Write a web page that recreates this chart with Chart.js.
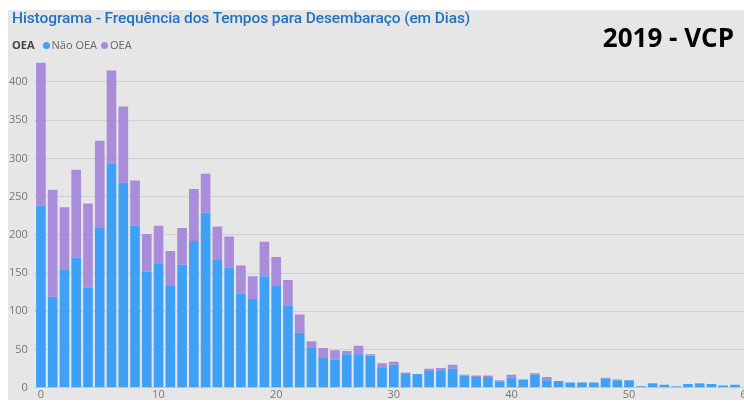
<!DOCTYPE html>
<html>
<head>
<meta charset="utf-8">
<script src="https://cdn.jsdelivr.net/npm/chart.js@4"></script>
<style>
  html, body { margin: 0; padding: 0; background: #fff; overflow: hidden; width: 744px; height: 406px; }
  #panel { position: absolute; left: 8px; top: 10px; width: 736px; height: 390px; background: #e6e6e6; }
  #wrap { position: absolute; left: -1px; top: 10px; width: 754px; height: 391px; }
  #titulo { position: absolute; left: 12px; top: 9px; font: 500 15.5px Roboto, sans-serif; color: #1f72c4; white-space: nowrap; letter-spacing: -0.1px; }
  #ano { position: absolute; right: 10px; top: 19px; font: bold 26px "Open Sans", sans-serif; color: #000; white-space: nowrap; }
  #legenda { position: absolute; left: 12px; top: 37px; font: 11px "Open Sans", sans-serif; color: #666; white-space: nowrap; }
  #legenda b { color: #444; margin-right: 4px; }
  .dot { display: inline-block; width: 7px; height: 7px; border-radius: 50%; margin: 0 2px 0 4px; vertical-align: 0px; }
</style>
</head>
<body>
<div id="panel"></div>
<div id="wrap"><canvas id="histograma" width="754" height="391"></canvas></div>
<div id="titulo">Histograma - Frequência dos Tempos para Desembaraço (em Dias)</div>
<div id="ano">2019 - VCP</div>
<div id="legenda"><b>OEA</b><span class="dot" style="background:#3fa0f8"></span>Não OEA<span class="dot" style="background:#a98ddb"></span>OEA</div>
<script>
// dias (0..59)
var dias = [];
for (var d = 0; d < 60; d++) dias.push(d);

var nao_oea = [238,119,154,170,131,210,293,268,212,152,
               162,133,161,192,229,167,157,123,116,146,
               134,108,72,53,40,37,44,44,42,26,
               30,19,18,22,23,25,16,14,14,8,
               13,11,17,10,9,7,7,7,12,10,
               10,2,6,4,2,5,5,5,3,4];
var oea = [187,140,82,115,110,113,122,100,59,49,
           50,46,48,68,51,44,41,37,30,45,
           37,33,24,8,12,12,4,11,2,6,
           4,1,0,3,3,5,1,2,2,2,
           4,0,2,4,0,0,0,0,1,1,
           0,0,0,0,0,0,1,0,0,0];

var ticks_x = [0,10,20,30,40,50,60];
var ticks_y = [0,50,100,150,200,250,300,350,400];

function pontos(serie){
  return dias.map(function(d, i){ return {x: d, y: serie[i]} });
}

new Chart(document.getElementById('histograma'), {
  type: 'bar',
  data: {
    datasets: [
      { label: 'Não OEA', data: pontos(nao_oea), backgroundColor: '#3fa0f8', barPercentage: 0.82, categoryPercentage: 1 },
      { label: 'OEA', data: pontos(oea), backgroundColor: '#a98ddb', barPercentage: 0.82, categoryPercentage: 1 }
    ]
  },
  options: {
    responsive: false,
    animation: false,
    layout: { padding: { left: 4, top: 49, right: 0, bottom: 0 } },
    plugins: { legend: { display: false }, tooltip: { enabled: false } },
    scales: {
      x: {
        type: 'linear', stacked: true, offset: false,
        min: -0.6, max: 60,
        grid: { display: false, drawTicks: false },
        border: { display: false },
        afterBuildTicks: function(s){ s.ticks = ticks_x.map(function(v){ return {value: v} }) },
        ticks: { color: '#777', font: { family: 'Open Sans', size: 11 }, padding: 0, maxRotation: 0, autoSkip: false }
      },
      y: {
        stacked: true, min: 0, max: 430,
        grid: { color: '#cfcfcf', drawTicks: false },
        border: { display: false },
        afterBuildTicks: function(s){ s.ticks = ticks_y.map(function(v){ return {value: v} }) },
        ticks: { color: '#777', font: { family: 'Open Sans', size: 11 }, padding: 6 }
      }
    }
  }
});
</script>
</body>
</html>
